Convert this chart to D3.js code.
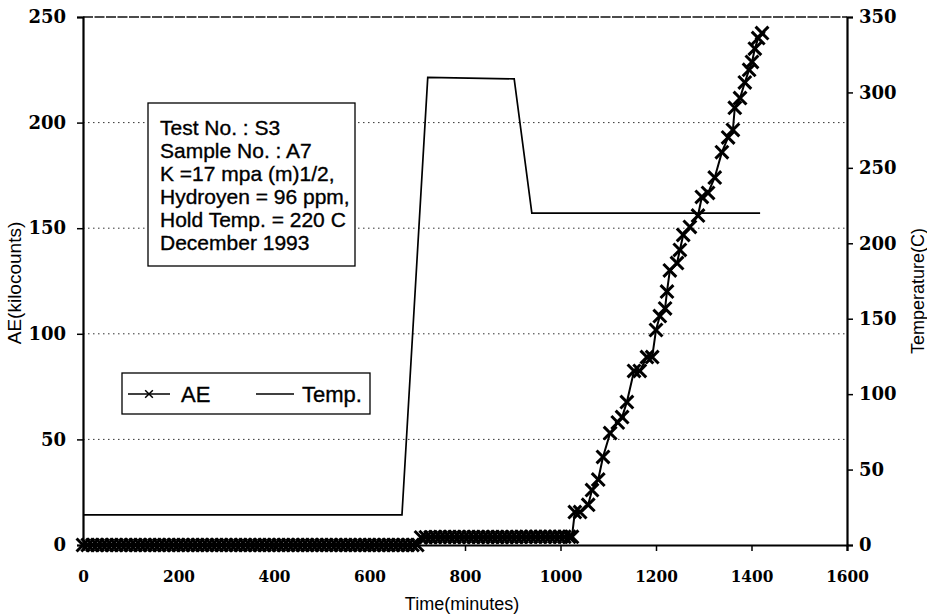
<!DOCTYPE html>
<html>
<head>
<meta charset="utf-8">
<script src="https://cdn.jsdelivr.net/npm/d3@7"></script>
<style>
  html, body { margin: 0; padding: 0; background: #fff; }
  svg { display: block; }
</style>
</head>
<body>
<svg id="chart" width="927" height="616"></svg>
<script>
// Acoustic emission counts (kilocounts) against time (minutes)
const aeTime = [
  0, 10, 20, 30, 40, 50, 60, 70, 80, 90, 100, 110, 120, 130, 140, 150, 160,
  170, 180, 190, 200, 210, 220, 230, 240, 250, 260, 270, 280, 290, 300, 310,
  320, 330, 340, 350, 360, 370, 380, 390, 400, 410, 420, 430, 440, 450, 460,
  470, 480, 490, 500, 510, 520, 530, 540, 550, 560, 570, 580, 590, 600, 610,
  620, 630, 640, 650, 660, 670, 680, 690, 700,
  708, 718, 728, 738, 748, 758, 768, 778, 788, 798, 808, 818, 828, 838, 848,
  858, 868, 878, 888, 898, 908, 918, 928, 938, 948, 958, 968, 978, 988, 998,
  1008, 1018, 1024,
  1030, 1041, 1058, 1066, 1079, 1089, 1104, 1120, 1129, 1139, 1154, 1166,
  1181, 1192, 1200, 1208, 1219, 1223, 1229, 1244, 1250, 1257, 1271, 1288,
  1296, 1309, 1323, 1338, 1351, 1361, 1365, 1376, 1386, 1395, 1401, 1407,
  1414, 1422
];
const aeCounts = [
  0, 0, 0, 0, 0, 0, 0, 0, 0, 0, 0, 0, 0, 0, 0, 0, 0,
  0, 0, 0, 0, 0, 0, 0, 0, 0, 0, 0, 0, 0, 0, 0,
  0, 0, 0, 0, 0, 0, 0, 0, 0, 0, 0, 0, 0, 0, 0,
  0, 0, 0, 0, 0, 0, 0, 0, 0, 0, 0, 0, 0, 0, 0,
  0, 0, 0, 0, 0, 0, 0, 0, 0,
  3.6, 3.7, 3.7, 3.8, 3.8, 3.8, 3.8, 3.8, 3.8, 3.8, 3.8, 3.8, 3.8, 3.8, 3.8,
  3.8, 3.8, 3.8, 3.8, 3.8, 3.8, 3.9, 3.9, 3.9, 3.9, 3.9, 3.9, 3.9, 3.9, 3.9,
  3.9, 3.9, 3.9,
  15.6, 15.6, 19, 26, 31, 41.7, 53, 58, 60.6, 67.7, 82.4, 82.4,
  89, 89, 101.8, 108.4, 112, 120, 130, 133.5, 139.7, 146.8, 150.6, 156,
  164.8, 166.7, 174, 186, 193, 196.5, 207, 211.6, 219, 225, 228.7, 235,
  240, 242.4
];

// Furnace temperature profile (C)
const tempTime = [0, 668, 722, 903, 940, 1418];
const tempValue = [20, 20, 310, 309, 220, 220];

// Axis ticks
const timeTicks = [0, 200, 400, 600, 800, 1000, 1200, 1400, 1600];
const aeTicks = [0, 50, 100, 150, 200, 250];
const tempTicks = [0, 50, 100, 150, 200, 250, 300, 350];

// Test description
const noteLines = [
  "Test No. : S3",
  "Sample No. : A7",
  "K =17 mpa (m)1/2,",
  "Hydroyen = 96 ppm,",
  "Hold Temp. = 220 C",
  "December 1993"
];

const svg = d3.select("#chart");
const plotLeft = 83, plotRight = 847, plotTop = 17, plotBottom = 545;

const x = d3.scaleLinear().domain([0, 1600]).range([plotLeft, plotRight]);
const yAE = d3.scaleLinear().domain([0, 250]).range([plotBottom, plotTop]);
const yT = d3.scaleLinear().domain([0, 350]).range([plotBottom, plotTop]);

// Dotted horizontal gridlines
svg.append("g")
  .selectAll("line")
  .data(aeTicks.filter(d => d > 0 && d < 250))
  .join("line")
  .attr("x1", plotLeft).attr("x2", plotRight)
  .attr("y1", d => yAE(d)).attr("y2", d => yAE(d))
  .attr("stroke", "#333")
  .attr("stroke-width", 1)
  .attr("stroke-dasharray", "1.5,3.5");

// Top frame line
svg.append("line")
  .attr("x1", plotLeft).attr("x2", plotRight)
  .attr("y1", yAE(250)).attr("y2", yAE(250))
  .attr("stroke", "#111").attr("stroke-width", 1.5)
  .attr("stroke-dasharray", "10,1.5");

const tickFont = "'DejaVu Serif', serif";

// Bottom axis
const xAxis = svg.append("g")
  .attr("transform", `translate(0,${plotBottom})`)
  .call(d3.axisBottom(x).tickValues(timeTicks).tickSize(6).tickPadding(19).tickFormat(d3.format("d")));
xAxis.select(".domain").attr("stroke-width", 2.2).attr("stroke", "#000");
xAxis.selectAll(".tick line").attr("stroke-width", 1.5);
xAxis.selectAll("text")
  .attr("font-family", "'DejaVu Serif Condensed', 'DejaVu Serif', serif")
  .attr("font-weight", "bold")
  .attr("font-size", 17)
  .attr("fill", "#000");

// Left axis
const yAxisL = svg.append("g")
  .attr("transform", `translate(${plotLeft},0)`)
  .call(d3.axisLeft(yAE).tickValues(aeTicks).tickSize(6).tickPadding(11).tickFormat(d3.format("d")));
yAxisL.select(".domain").attr("stroke-width", 2.2).attr("stroke", "#000");
yAxisL.selectAll(".tick line").attr("stroke-width", 1.5);
yAxisL.selectAll("text")
  .attr("font-family", tickFont)
  .attr("font-weight", "bold")
  .attr("font-size", 18)
  .attr("fill", "#000");

// Right axis
const yAxisR = svg.append("g")
  .attr("transform", `translate(${plotRight},0)`)
  .call(d3.axisRight(yT).tickValues(tempTicks).tickSize(6).tickPadding(6).tickFormat(d3.format("d")));
yAxisR.select(".domain").attr("stroke-width", 2.2).attr("stroke", "#000");
yAxisR.selectAll(".tick line").attr("stroke-width", 1.5);
yAxisR.selectAll("text")
  .attr("font-family", tickFont)
  .attr("font-weight", "bold")
  .attr("font-size", 18)
  .attr("fill", "#000");

const titleFont = "'Liberation Sans', Arial, sans-serif";

// Axis titles
svg.append("text")
  .attr("x", 462).attr("y", 610)
  .attr("text-anchor", "middle")
  .attr("font-family", titleFont).attr("font-size", 18)
  .text("Time(minutes)");
svg.append("text")
  .attr("transform", "translate(21,283) rotate(-90)")
  .attr("text-anchor", "middle")
  .attr("font-family", titleFont).attr("font-size", 19)
  .text("AE(kilocounts)");
svg.append("text")
  .attr("transform", "translate(924,291) rotate(-90)")
  .attr("text-anchor", "middle")
  .attr("font-family", titleFont).attr("font-size", 18)
  .text("Temperature(C)");

// Temperature line
const tempData = tempTime.map((t, i) => ({ t, v: tempValue[i] }));
svg.append("path")
  .datum(tempData)
  .attr("fill", "none")
  .attr("stroke", "#000")
  .attr("stroke-width", 1.7)
  .attr("d", d3.line().x(d => x(d.t)).y(d => yT(d.v)));

// AE line with cross markers
const aeData = aeTime.map((t, i) => ({ t, v: aeCounts[i] }));
svg.append("path")
  .datum(aeData)
  .attr("fill", "none")
  .attr("stroke", "#000")
  .attr("stroke-width", 2)
  .attr("d", d3.line().x(d => x(d.t)).y(d => yAE(d.v)));

const crossPath = d3.symbol().type(d3.symbolTimes).size(110);
svg.append("g")
  .selectAll("path")
  .data(aeData)
  .join("path")
  .attr("transform", d => `translate(${x(d.t)},${yAE(d.v)})`)
  .attr("d", crossPath)
  .attr("fill", "none")
  .attr("stroke", "#000")
  .attr("stroke-width", 3);

// Test description box
const noteG = svg.append("g");
noteG.append("rect")
  .attr("x", 148).attr("y", 103).attr("width", 207).attr("height", 163)
  .attr("fill", "#fff").attr("stroke", "#000").attr("stroke-width", 1.3);
noteG.selectAll("text")
  .data(noteLines)
  .join("text")
  .attr("x", 160)
  .attr("y", (d, i) => 135 + i * 23)
  .attr("font-family", titleFont)
  .attr("font-size", 21)
  .attr("fill", "#000")
  .attr("stroke", "#000")
  .attr("stroke-width", 0.35)
  .text(d => d);

// Legend
const leg = svg.append("g");
leg.append("rect")
  .attr("x", 122).attr("y", 373).attr("width", 248).attr("height", 41)
  .attr("fill", "#fff").attr("stroke", "#000").attr("stroke-width", 1.3);
leg.append("line")
  .attr("x1", 128).attr("x2", 170).attr("y1", 394).attr("y2", 394)
  .attr("stroke", "#000").attr("stroke-width", 1.3);
leg.append("path")
  .attr("transform", "translate(149,394)")
  .attr("d", d3.symbol().type(d3.symbolTimes).size(40)())
  .attr("fill", "none").attr("stroke", "#000").attr("stroke-width", 1.5);
leg.append("text")
  .attr("x", 181).attr("y", 402)
  .attr("font-family", titleFont).attr("font-size", 22)
  .attr("stroke", "#000").attr("stroke-width", 0.35)
  .text("AE");
leg.append("line")
  .attr("x1", 256).attr("x2", 294).attr("y1", 394).attr("y2", 394)
  .attr("stroke", "#000").attr("stroke-width", 1.3);
leg.append("text")
  .attr("x", 302).attr("y", 402)
  .attr("font-family", titleFont).attr("font-size", 22)
  .attr("stroke", "#000").attr("stroke-width", 0.35)
  .text("Temp.");
</script>
</body>
</html>
